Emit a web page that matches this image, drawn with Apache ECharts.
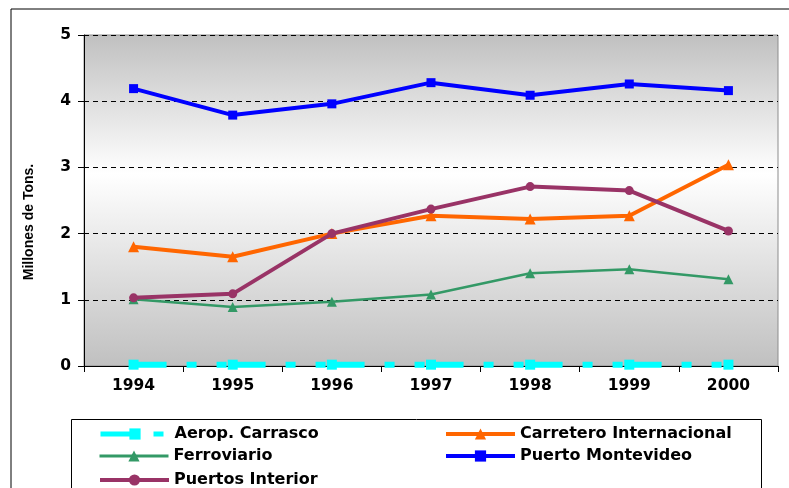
<!DOCTYPE html>
<html>
<head>
<meta charset="utf-8">
<script src="https://cdn.jsdelivr.net/npm/echarts@6/dist/echarts.min.js"></script>
<style>html,body{margin:0;padding:0;background:#fff;}#c{width:789px;height:488px;}</style>
</head>
<body>
<div id="c"></div>
<script>
const years = ['1994','1995','1996','1997','1998','1999','2000'];
const aeropCarrasco = [0.02, 0.02, 0.02, 0.02, 0.02, 0.02, 0.02];
const carreteroInternacional = [1.80, 1.65, 2.00, 2.27, 2.22, 2.27, 3.04];
const ferroviario = [1.01, 0.89, 0.97, 1.08, 1.40, 1.46, 1.31];
const puertoMontevideo = [4.19, 3.79, 3.96, 4.28, 4.09, 4.26, 4.16];
const puertosInterior = [1.03, 1.09, 2.00, 2.37, 2.71, 2.65, 2.04];
const yTicks = [0, 1, 2, 3, 4, 5];
const yTitle = 'Millones de Tons.';

const FONT = '"DejaVu Sans", Verdana, sans-serif';
const ARIAL = '"Liberation Sans", Arial, sans-serif';

function legendItem(name, left, top, lw) {
  return {
    orient: 'horizontal', left: left, top: top, padding: 0, itemGap: 0,
    itemWidth: 69, itemHeight: 14,
    lineStyle: {width: lw},
    textStyle: {color: '#000', fontFamily: FONT, fontWeight: 'bold', fontSize: 16},
    data: [name]
  };
}

const chart = echarts.init(document.getElementById('c'), null, {renderer: 'canvas'});
chart.setOption({
  animation: false,
  backgroundColor: '#fff',
  grid: {
    left: 84, right: 11, top: 35, bottom: 122,
    show: true,
    borderColor: '#8c8c8c', borderWidth: 1,
    backgroundColor: new echarts.graphic.LinearGradient(0, 0, 0, 1, [
      {offset: 0, color: '#c0c0c0'},
      {offset: 0.42, color: '#ffffff'},
      {offset: 1, color: '#c0c0c0'}
    ])
  },
  xAxis: {
    type: 'category', data: years, boundaryGap: true,
    axisLine: {lineStyle: {color: '#000', width: 1}},
    axisTick: {show: true, inside: false, length: 6, alignWithLabel: false, lineStyle: {color: '#000'}},
    axisLabel: {color: '#000', fontFamily: FONT, fontWeight: 'bold', fontSize: 15.5, margin: 12},
    splitLine: {show: false}
  },
  yAxis: {
    type: 'value', min: yTicks[0], max: yTicks[yTicks.length - 1], interval: 1,
    axisLine: {show: true, lineStyle: {color: '#000', width: 1}},
    axisTick: {show: true, inside: false, length: 6, lineStyle: {color: '#000'}},
    axisLabel: {color: '#000', fontFamily: FONT, fontWeight: 'bold', fontSize: 15.5, margin: 13},
    splitLine: {show: true, lineStyle: {color: '#000', type: [5, 4], width: 1}}
  },
  legend: [
    legendItem('Aerop. Carrasco', 98, 426, 5),
    legendItem('Carretero Internacional', 444, 426, 4),
    legendItem('Ferroviario', 98, 448, 3),
    legendItem('Puerto Montevideo', 444, 448, 4),
    legendItem('Puertos Interior', 98, 472, 4)
  ],
  graphic: [
    {type: 'line', shape: {x1: 11, y1: 9, x2: 11, y2: 488}, style: {stroke: '#000', lineWidth: 1}},
    {type: 'line', shape: {x1: 11, y1: 9, x2: 789, y2: 9}, style: {stroke: '#000', lineWidth: 1}},
    {type: 'rect', shape: {x: 71.5, y: 419.5, width: 690, height: 80}, style: {stroke: '#000', fill: 'none', lineWidth: 1}},
    {type: 'text', x: 29, y: 222, rotation: Math.PI / 2,
     style: {text: yTitle, fill: '#000', font: 'bold 14px ' + ARIAL, textAlign: 'center', textVerticalAlign: 'middle'}}
  ],
  series: [
    {
      name: 'Aerop. Carrasco', type: 'line', data: aeropCarrasco,
      symbol: 'rect', symbolSize: 10,
      itemStyle: {color: '#00ffff'},
      lineStyle: {color: '#00ffff', width: 6, type: [33, 20, 10, 20, 10, 6]},
      z: 5
    },
    {
      name: 'Carretero Internacional', type: 'line', data: carreteroInternacional,
      symbol: 'triangle', symbolSize: 11,
      itemStyle: {color: '#ff6600'},
      lineStyle: {color: '#ff6600', width: 4},
      z: 3
    },
    {
      name: 'Ferroviario', type: 'line', data: ferroviario,
      symbol: 'triangle', symbolSize: 10,
      itemStyle: {color: '#339966'},
      lineStyle: {color: '#339966', width: 2.5},
      z: 2
    },
    {
      name: 'Puerto Montevideo', type: 'line', data: puertoMontevideo,
      symbol: 'rect', symbolSize: 9,
      itemStyle: {color: '#0000ff'},
      lineStyle: {color: '#0000ff', width: 4},
      z: 4
    },
    {
      name: 'Puertos Interior', type: 'line', data: puertosInterior,
      symbol: 'circle', symbolSize: 9,
      itemStyle: {color: '#993366'},
      lineStyle: {color: '#993366', width: 4},
      z: 4
    }
  ]
});
</script>
</body>
</html>
